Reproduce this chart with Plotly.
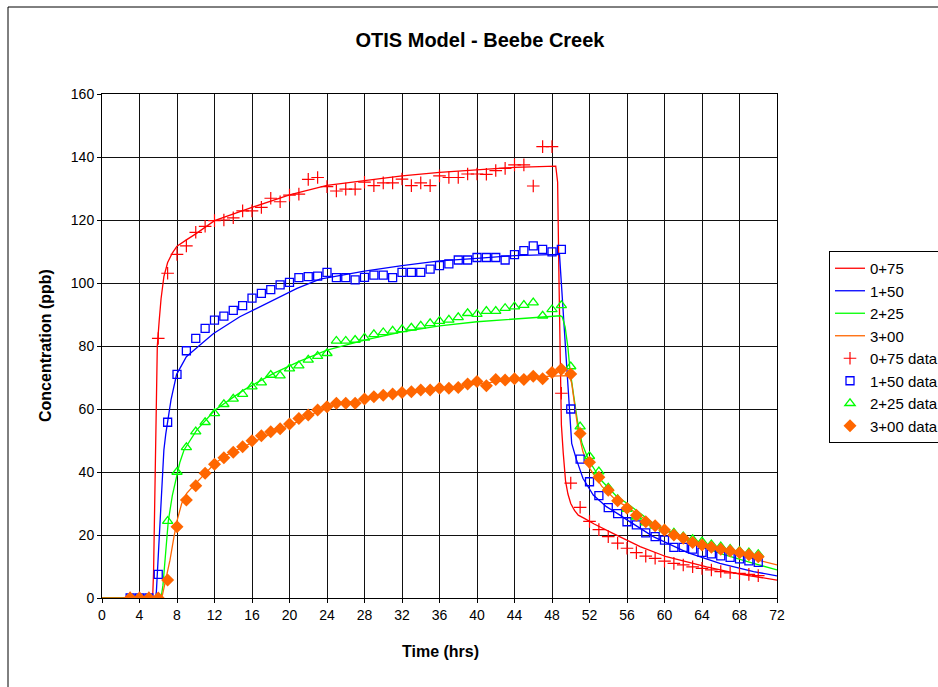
import plotly.graph_objects as go

# ---- Observed tracer concentrations (ppb), sampled hourly from t = 3 h to t = 70 h
obs_hours = list(range(3, 71))

obs_075 = [0, 0, 0, 82.4, 103.1, 109.1, 111.8, 116.1, 118, 119.8, 120, 120.7, 122.9, 122.9,
           124, 126.9, 125.8, 127.9, 128.2, 132.9, 133.5, 130.6, 129.2, 129.8, 129.8, 132,
           130.9, 131.8, 131.8, 133, 130.9, 131.8, 130.9, 134, 133.5, 133.5, 134.6, 134.6,
           134.5, 135.7, 136.4, 137.5, 137.5, 130.8, 143.3, 143.3, 65, 36.5, 28.8, 24.3,
           21.7, 19.5, 17.4, 15.8, 14.4, 13.3, 12.6, 11.7, 11, 10.5, 9.9, 9.4, 8.9, 8.4,
           8.0, 7.8, 7.5, 7.1]

obs_150 = [0, 0, 0, 7.5, 55.8, 71, 78.5, 82.4, 85.6, 88.2, 89.5, 91.3, 92.8, 95.2, 96.7,
           97.9, 99.4, 100.2, 101.7, 102, 102.2, 103.4, 101.7, 101.7, 101, 101.8, 102.5,
           102.5, 101.7, 103.4, 103.4, 103.4, 104.4, 105.5, 106.1, 107.3, 107.3, 108.1,
           108.1, 108.1, 107.3, 109, 110.3, 111.8, 110.7, 109.9, 110.7, 60, 44.1, 36.9,
           32.5, 28.7, 26.8, 24.2, 23.2, 20.7, 19.5, 18.4, 16.1, 16.1, 15.5, 14.5, 14.0,
           13.4, 12.9, 12.4, 11.8, 11.3]

obs_225 = [0, 0, 0, 0, 24.4, 40, 47.8, 52.8, 55.8, 58.6, 61.5, 63.2, 64.7, 67.1, 68.4,
           70.8, 70.6, 72.8, 73.8, 75.6, 76.8, 77.7, 81.6, 81.6, 81.9, 82.6, 83.7, 84.3,
           84.8, 85.3, 85.8, 86.4, 87.2, 87.9, 88.3, 89.1, 90.4, 90.1, 91.1, 91.1, 92,
           92.5, 93, 93.8, 89.6, 91.6, 92.9, 73.5, 54.4, 45, 40.1, 35, 31.3, 28.2, 25.8,
           23.9, 22.9, 21.8, 20.7, 19.5, 18.6, 17.9, 17, 16.3, 15.5, 14.9, 14.4, 13.9]

obs_300 = [0, 0, 0, 0, 5.7, 22.6, 31.1, 35.6, 39.6, 42.5, 44.5, 46.3, 48, 49.9, 51.5, 52.8,
           53.7, 55.2, 57, 58.1, 59.7, 60.7, 61.8, 61.8, 61.8, 63.2, 63.9, 64.4, 64.8,
           65.2, 65.5, 66, 66, 66.6, 66.6, 66.8, 67.9, 68.7, 67.4, 69.4, 69.2, 69.6, 69.4,
           70.4, 69.6, 71.6, 72.6, 71.1, 52.2, 43.1, 38.3, 34.2, 30.9, 28.5, 26.3, 24.2,
           22.9, 21.6, 20, 19, 17.6, 16.8, 16.1, 15.5, 14.9, 14.4, 13.7, 13.1]

# ---- OTIS simulated concentrations (ppb) at each station
sim_075_t = [0, 5.4, 5.5, 5.6, 5.7, 5.8, 5.9, 6.1, 6.3, 6.6, 7.0, 7.5, 8, 9, 10, 12, 14, 16,
             20, 24, 28, 32, 36, 40, 44, 48.4, 48.6, 48.75, 48.85, 48.9, 49.0, 49.2, 49.45,
             49.7, 50.0, 50.4, 50.8, 51.5, 52.5, 54.5, 57.4, 60.2, 64.5, 68, 72]
sim_075 = [0, 0, 8, 30, 52, 68, 80, 88, 95, 102, 106.5, 109.5, 111.7, 113.7, 115.6, 119.8,
           122, 124, 128, 131, 132.5, 134, 135.1, 135.9, 136.7, 137.1, 132, 100, 80, 65, 55,
           46, 37, 33, 30, 27.8, 26.3, 25.2, 23.5, 20.5, 16.3, 13.1, 9.9, 7.6, 5.7]

sim_150_t = [0, 5.7, 5.8, 5.9, 6.05, 6.2, 6.4, 6.6, 6.8, 7.0, 7.36, 7.96, 9.0, 10.45, 11.9,
             14.7, 17.6, 20.8, 23.25, 28, 32, 36, 40, 44, 48.8, 49.0, 49.3, 49.6, 49.85,
             50.1, 50.6, 51.3, 52.4, 53.8, 55.25, 56, 58.8, 62.4, 65.9, 69.5, 72]
sim_150 = [0, 0, 2, 7.5, 15, 22.6, 38, 47, 52, 56, 62.9, 71, 76.6, 80.3, 84, 89.3, 93.5,
           98.3, 101.2, 103.8, 105.5, 107, 107.8, 108.7, 109.1, 99.9, 84, 70, 59, 49.1, 44,
           38, 32.7, 29, 26.3, 24.8, 19.5, 14.5, 11, 8.4, 7]

sim_225_t = [0, 6.3, 6.5, 6.72, 7.07, 7.5, 8.03, 8.3, 8.75, 10.1, 12.05, 15.1, 18.3, 20,
             21.1, 24, 28, 32, 36, 40, 44, 46.7, 48.9, 49.1, 49.4, 49.7, 49.9, 50.3, 50.7,
             51.2, 51.9, 53.3, 54.9, 56, 58.8, 62.4, 65.9, 69.5, 72]
sim_225 = [0, 0, 4, 12, 24.4, 32.5, 39.9, 43, 47, 53.3, 59.7, 66, 71.3, 73.8, 75.2, 78.7,
           81.9, 84.5, 86.4, 87.7, 88.6, 89.1, 89.6, 89.2, 86.1, 79.5, 73, 64.5, 56.5,
           49.1, 43.8, 37.2, 32.2, 30.1, 23.7, 18.4, 14.2, 11, 8.9]

sim_300_t = [0, 6.3, 6.45, 6.72, 7.25, 7.68, 8.03, 8.5, 9.03, 10, 11.1, 12.05, 13.3, 15.1,
             19, 20.9, 24, 28, 32, 36, 40, 44, 46.7, 49.6, 49.9, 50.1, 50.45, 50.8, 51.3,
             52, 53.3, 54.9, 56, 58.8, 62.4, 65.9, 69.5, 72]
sim_300 = [0, 0, 1, 4.7, 12, 19.5, 24.8, 30, 33.2, 36.4, 39.8, 42.8, 45.4, 48, 53.6, 56,
           60.7, 63.2, 65, 66.6, 67.9, 69.2, 70.3, 70.6, 70, 68.2, 61, 53, 46.4, 41.2,
           35.5, 30.8, 29, 23.2, 18.4, 15.2, 12.4, 10.5]

station_names = ["0+75", "1+50", "2+25", "3+00"]
line_colors = ["#FF0000", "#0000FF", "#00FF00", "#FF6600"]

FONT = "Liberation Sans, Arial, sans-serif"

fig = go.Figure()

sims = [(sim_075_t, sim_075), (sim_150_t, sim_150), (sim_225_t, sim_225), (sim_300_t, sim_300)]
for name, color, (t, v) in zip(station_names, line_colors, sims):
    fig.add_trace(go.Scatter(x=t, y=v, mode="lines", name=name,
                             line=dict(color=color, width=1.3)))

obs = [obs_075, obs_150, obs_225, obs_300]
marker_styles = [
    dict(symbol="cross-thin-open", size=9, color="#FF0000", line=dict(color="#FF0000", width=1.2)),
    dict(symbol="square-open", size=8, color="#0000FF", line=dict(color="#0000FF", width=1.3)),
    dict(symbol="triangle-up-open", size=9, color="#00FF00", line=dict(color="#00FF00", width=1.3)),
    dict(symbol="diamond", size=10, color="#FF6600", line=dict(width=0)),
]
for name, vals, mk in zip(station_names, obs, marker_styles):
    fig.add_trace(go.Scatter(x=obs_hours, y=vals, mode="markers", name=name + " data",
                             marker=mk))

# plot area spans 102..777 px horizontally and 94..598 px vertically
L, R, T, B = 102, 777, 94, 598
W, H = 938, 687

def px_x(p):
    return (p - L) / (R - L)

def px_y(p):
    return (B - p) / (B - T)

fig.update_layout(
    width=W, height=H,
    margin=dict(l=L, r=W - R, t=T, b=H - B, pad=0, autoexpand=False),
    paper_bgcolor="white", plot_bgcolor="white",
    font=dict(family=FONT, size=14, color="black"),
    showlegend=True,
    legend=dict(x=px_x(829), y=px_y(251), xanchor="left", yanchor="top",
                bgcolor="white", bordercolor="black", borderwidth=1,
                font=dict(family=FONT, size=15, color="black"),
                tracegroupgap=0),
    title=dict(text="<b>OTIS Model - Beebe Creek</b>", x=480 / W, xref="container",
               y=1 - 40 / H, yref="container", xanchor="center", yanchor="middle",
               font=dict(family=FONT, size=20, color="black")),
)

fig.update_xaxes(range=[0, 72], dtick=4, tick0=0, showgrid=True, gridcolor="#111111",
                 gridwidth=1, zeroline=False, showline=True, linecolor="black", linewidth=1,
                 mirror=True, ticks="outside", ticklen=4, tickcolor="black",
                 tickfont=dict(family=FONT, size=14, color="black"))
fig.update_yaxes(range=[0, 160], dtick=20, tick0=0, showgrid=True, gridcolor="#111111",
                 gridwidth=1, zeroline=False, showline=True, linecolor="black", linewidth=1,
                 mirror=True, ticks="outside", ticklen=4, tickcolor="black",
                 tickfont=dict(family=FONT, size=14, color="black"))

fig.add_annotation(text="<b>Time (hrs)</b>", x=px_x(440), y=px_y(651), xref="paper",
                   yref="paper", showarrow=False, xanchor="center", yanchor="middle",
                   font=dict(family=FONT, size=16, color="black"))
fig.add_annotation(text="<b>Concentration (ppb)</b>", x=px_x(45), y=0.5, xref="paper",
                   yref="paper", showarrow=False, textangle=-90, xanchor="center",
                   yanchor="middle", font=dict(family=FONT, size=16, color="black"))

# outer chart frame
fig.add_shape(type="rect", xref="paper", yref="paper", x0=px_x(8), y0=px_y(700),
              x1=px_x(950), y1=px_y(7), line=dict(color="black", width=1),
              fillcolor="rgba(0,0,0,0)", layer="below")

fig.write_html("out.html")
